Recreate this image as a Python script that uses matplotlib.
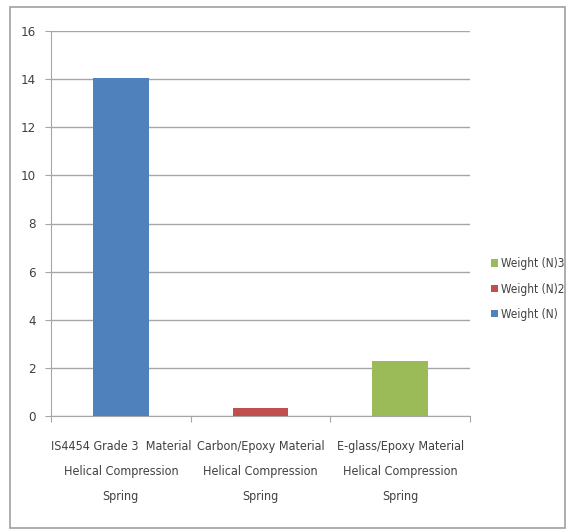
import matplotlib
matplotlib.use("Agg")
import matplotlib.pyplot as plt
from matplotlib.patches import Rectangle
import numpy as np

plt.rcParams['font.family'] = ['DejaVu Sans']
plt.rcParams['font.stretch'] = 'condensed'

categories = ["IS4454 Grade 3  Material\nHelical Compression\nSpring",
              "Carbon/Epoxy Material\nHelical Compression\nSpring",
              "E-glass/Epoxy Material\nHelical Compression\nSpring"]
series_names = ["Weight (N)", "Weight (N)2", "Weight (N)3"]
weight_n = [14.05, 0, 0]
weight_n2 = [0, 0.33, 0]
weight_n3 = [0, 0, 2.29]
colors = ["#4F81BD", "#C0504D", "#9BBB59"]
yticks = [0, 2, 4, 6, 8, 10, 12, 14, 16]

fig = plt.figure(figsize=(5.71, 5.32), dpi=100)
fig.patch.set_facecolor("white")
fig.add_artist(Rectangle((10/571, 1-528/532), 555/571, 521/532, transform=fig.transFigure,
                         fill=False, edgecolor="#a0a0a0", linewidth=1.2))

ax = fig.add_axes([51/571, 1-416/532, 419/571, 385/532])
x = np.arange(len(categories))
bottom = np.zeros(len(categories))
handles = []
for vals, name, c in zip([weight_n, weight_n2, weight_n3], series_names, colors):
    b = ax.bar(x, vals, width=0.4, bottom=bottom, color=c, label=name, zorder=3)
    bottom += np.array(vals)
    handles.append(b)

ax.set_xlim(-0.5, 2.5)
ax.set_ylim(0, 16)
ax.set_yticks(yticks)
ax.set_yticklabels([str(v) for v in yticks], fontsize=9.5, color="#404040")
ax.yaxis.grid(True, color="#a6a6a6", linewidth=1.0, zorder=0)
ax.set_axisbelow(True)
for s in ["top", "right"]:
    ax.spines[s].set_visible(False)
ax.spines["left"].set_color("#a6a6a6")
ax.spines["bottom"].set_color("#a6a6a6")
ax.tick_params(axis="y", length=4, color="#a6a6a6", pad=7)
ax.set_xticks([-0.5, 0.5, 1.5, 2.5])
ax.set_xticklabels([])
ax.tick_params(axis="x", length=4, color="#a6a6a6")
ax.set_xticks(x, minor=True)
ax.set_xticklabels(categories, minor=True, fontsize=9, color="#404040", linespacing=2.2)
ax.tick_params(axis="x", which="minor", length=0, pad=17)

leg = fig.legend(handles[::-1], series_names[::-1], loc="center left",
                 bbox_to_anchor=(480/571, 1-289/532), frameon=False, fontsize=8.5,
                 handlelength=0.6, handleheight=0.6, handletextpad=0.3, labelspacing=1.05,
                 labelcolor="#404040")

fig.savefig("out.png", dpi=100, facecolor="white")
